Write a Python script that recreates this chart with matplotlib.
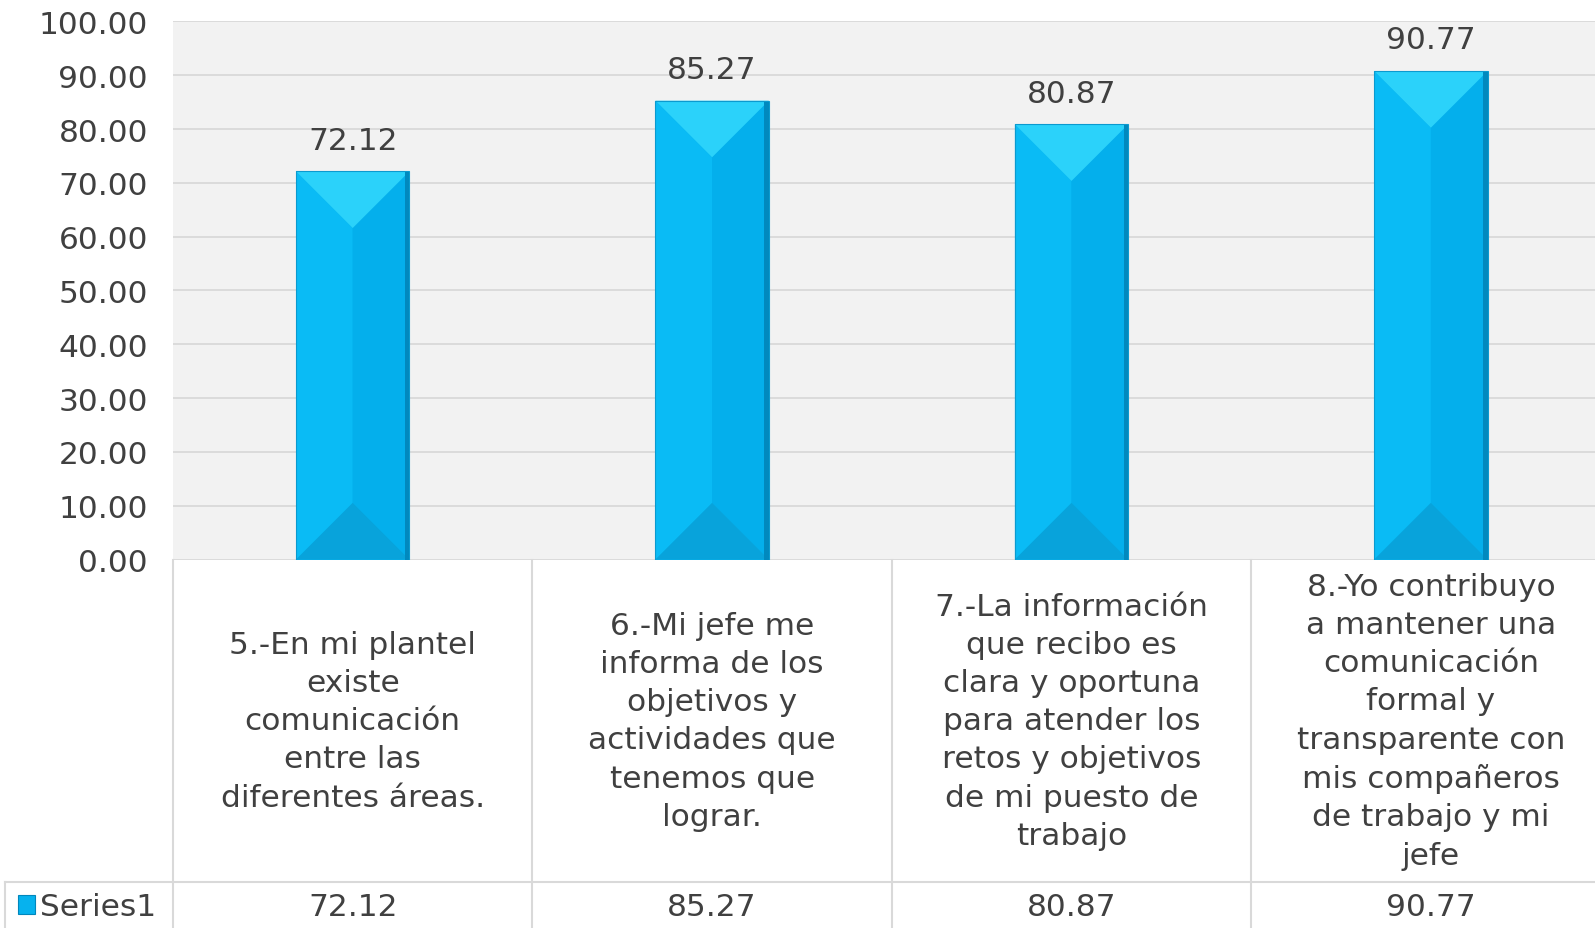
import matplotlib.pyplot as plt
from matplotlib.patches import Polygon, Rectangle
import numpy as np

categorias = [
    "5.-En mi plantel\nexiste\ncomunicación\nentre las\ndiferentes áreas.",
    "6.-Mi jefe me\ninforma de los\nobjetivos y\nactividades que\ntenemos que\nlograr.",
    "7.-La información\nque recibo es\nclara y oportuna\npara atender los\nretos y objetivos\nde mi puesto de\ntrabajo",
    "8.-Yo contribuyo\na mantener una\ncomunicación\nformal y\ntransparente con\nmis compañeros\nde trabajo y mi\njefe",
]
valores = [72.12, 85.27, 80.87, 90.77]
serie = "Series1"
ticks_y = [0, 10, 20, 30, 40, 50, 60, 70, 80, 90, 100]

W, H = 1595, 929
texto = '#404040'
linea = '#D9D9D9'
fs = 22.5

plt.rcParams['font.family'] = 'DejaVu Sans'
fig = plt.figure(figsize=(W / 100, H / 100), dpi=100)

# area de la grafica (se sale un poco por la derecha, como en el original)
x_izq = 173 / W
ancho_cat = 359.4 / W
y_abajo = 1 - 560.5 / H
y_arriba = 1 - 22.4 / H
ax = fig.add_axes([x_izq, y_abajo, 4 * ancho_cat, y_arriba - y_abajo])
ax.set_facecolor('#F2F2F2')
ax.set_xlim(-0.5, 3.5)
ax.set_ylim(0, 100)
ax.set_yticks(ticks_y)
ax.set_yticklabels([f"{t:.2f}" for t in ticks_y], fontsize=fs, color=texto)
ax.tick_params(axis='y', length=0, pad=18)
ax.set_xticks([])
ax.grid(axis='y', color=linea, linewidth=1.3)
ax.set_axisbelow(True)
for s in ax.spines.values():
    s.set_visible(False)

bw = 0.315
x = np.arange(len(valores))
barras = ax.bar(x, valores, width=bw, color='#06B2EE', edgecolor='none', zorder=2)

# profundidad del bisel: mitad del ancho de la barra, en pixeles
px_x = ax.transData.transform((1, 0))[0] - ax.transData.transform((0, 0))[0]
px_y = ax.transData.transform((0, 1))[1] - ax.transData.transform((0, 0))[1]
d = (bw / 2 * px_x) / px_y

for b, v in zip(barras, valores):
    x0 = b.get_x()
    x1 = x0 + b.get_width()
    xc = (x0 + x1) / 2
    caras = [
        ([(x0, 0), (xc, d), (xc, v - d), (x0, v)], '#0ABBF5'),
        ([(x1, 0), (xc, d), (xc, v - d), (x1, v)], '#04AFEC'),
        ([(x0, v), (x1, v), (xc, v - d)], '#2BD2FA'),
        ([(x0, 0), (x1, 0), (xc, d)], '#08A3DB'),
    ]
    for pts, c in caras:
        ax.add_patch(Polygon(pts, closed=True, facecolor=c, edgecolor='none', zorder=3))
    ax.add_patch(Rectangle((x1 - 0.012, 0), 0.012, v, facecolor='#0189BE', edgecolor='none', zorder=4))
    ax.add_patch(Rectangle((x0, 0), bw, v, facecolor='none', edgecolor='#0B9ACF', linewidth=0.8, zorder=5))
    ax.annotate(f"{v:.2f}", (xc, v), xytext=(0, 12), textcoords='offset points',
                ha='center', va='bottom', fontsize=fs, color=texto)

# tabla de datos
ax_t = fig.add_axes([x_izq, 0, 4 * ancho_cat, y_abajo])
ax_t.set_xlim(-0.5, 3.5)
ax_t.set_ylim(0, 1)
ax_t.axis('off')
y_fila = (H - 883) / (H - 560.5)
izq_serie = (5 - 173) / 359.4 - 0.5

for k in range(len(valores)):
    ax_t.plot([k - 0.5, k - 0.5], [0, 1], color=linea, lw=1.5, clip_on=False)
    ax_t.text(k, (1 + y_fila) / 2, categorias[k], ha='center', va='center',
              multialignment='center', fontsize=fs, color=texto, linespacing=1.4)
    ax_t.text(k, y_fila / 2 - 0.005, f"{valores[k]:.2f}", ha='center', va='center',
              fontsize=fs, color=texto)
ax_t.plot([izq_serie, 3.5], [y_fila, y_fila], color=linea, lw=1.5, clip_on=False)
ax_t.plot([izq_serie, izq_serie], [0, y_fila], color=linea, lw=1.5, clip_on=False)

# clave de la serie
ax_t.add_patch(Rectangle((izq_serie + 0.036, y_fila * 0.3), 0.047, y_fila * 0.42,
                         facecolor='#06B2EE', edgecolor='#0187BC', lw=0.8, clip_on=False))
ax_t.text(izq_serie + 0.097, y_fila / 2 - 0.005, serie, ha='left', va='center',
          fontsize=fs, color=texto)

fig.savefig('out.png', dpi=100, facecolor='white')
